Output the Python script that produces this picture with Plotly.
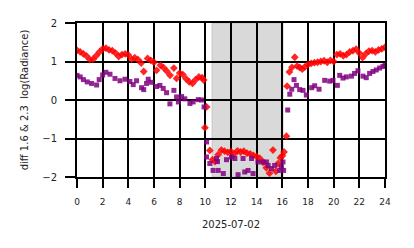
import plotly.graph_objects as go

# Red series (diff 1.6 um) - hours, values
red_t = [0.00, 0.25, 0.50, 0.75, 1.00, 1.25, 1.50, 1.75, 2.00, 2.25, 2.50, 2.75,
         3.00, 3.25, 3.50, 3.75, 4.00, 4.25, 4.50, 4.75, 5.00, 5.20, 5.50, 5.75,
         6.00, 6.20, 6.50, 6.75, 7.00, 7.25, 7.55, 7.76, 8.00, 8.25, 8.50, 8.75,
         9.00, 9.25, 9.50, 9.75, 9.87, 9.97, 10.10, 10.35, 10.55, 10.75, 11.00, 11.25,
         11.50, 11.75, 12.00, 12.25, 12.50, 12.75, 13.00, 13.25, 13.50, 13.75, 14.00, 14.25,
         14.50, 14.75, 15.00, 15.27, 15.50, 15.67, 15.85, 16.00, 16.13, 16.32, 16.37, 16.55,
         16.75, 16.97, 17.15, 17.35, 17.55, 17.75, 18.00, 18.25, 18.50, 18.75, 19.00, 19.25,
         19.50, 19.75, 20.00, 20.25, 20.50, 20.75, 21.00, 21.25, 21.50, 21.75, 22.00, 22.25,
         22.50, 22.75, 23.00, 23.25, 23.50, 23.75, 24.00]
red_v = [1.29, 1.25, 1.20, 1.14, 1.05, 1.06, 1.15, 1.25, 1.33, 1.35, 1.30, 1.28,
         1.22, 1.13, 1.18, 1.20, 1.17, 1.06, 1.10, 1.05, 0.96, 0.74, 1.08, 1.03,
         0.98, 0.77, 0.90, 0.84, 0.75, 0.64, 0.83, 0.56, 0.70, 0.66, 0.55, 0.47,
         0.43, 0.53, 0.60, 0.58, 0.52, -0.72, -0.18, -1.31, -1.55, -1.60, -1.42, -1.30,
         -1.33, -1.36, -1.34, -1.40, -1.32, -1.35, -1.33, -1.38, -1.40, -1.44, -1.47, -1.52,
         -1.62, -1.76, -1.90, -1.30, -1.85, -1.65, -1.50, -1.45, -1.35, -0.94, 0.36, 0.73,
         0.85, 1.11, 0.88, 0.85, 0.80, 0.86, 0.92, 0.95, 0.97, 0.98, 1.00, 1.02,
         0.98, 1.03, 1.00, 1.18, 1.20, 1.15, 1.18, 1.25, 1.28, 1.32, 1.22, 1.10,
         1.20, 1.27, 1.28, 1.25, 1.30, 1.33, 1.37]

# Purple series (diff 2.3 um)
pur_t = [0.00, 0.25, 0.50, 0.80, 1.14, 1.53, 1.73, 2.00, 2.25, 2.57, 2.96, 3.35,
         3.74, 4.12, 4.38, 4.64, 5.03, 5.20, 5.42, 5.55, 5.80, 6.20, 6.46, 6.72,
         6.98, 7.24, 7.55, 7.76, 7.90, 8.15, 8.40, 8.80, 9.05, 9.45, 9.70, 9.90,
         10.10, 10.09, 10.35, 10.60, 10.87, 10.95, 11.00, 11.40, 11.65, 12.04, 12.30, 12.55,
         12.94, 13.07, 13.33, 13.60, 13.72, 14.10, 14.50, 14.76, 14.89, 15.15, 15.40, 15.80,
         15.93, 16.05, 16.10, 16.42, 16.58, 16.73, 16.91, 17.10, 17.35, 17.61, 17.87, 18.29,
         18.52, 18.86, 19.30, 19.69, 19.95, 20.29, 20.47, 20.73, 20.99, 21.38, 21.63, 21.89,
         22.28, 22.54, 22.80, 23.06, 23.32, 23.58, 23.84, 24.00]
pur_v = [0.64, 0.60, 0.53, 0.47, 0.43, 0.39, 0.53, 0.65, 0.72, 0.67, 0.56, 0.50,
         0.54, 0.48, 0.40, 0.50, 0.32, 0.27, 0.43, 0.54, 0.46, 0.35, 0.38, 0.30,
         0.19, -0.10, 0.25, 0.08, -0.05, 0.09, 0.03, -0.09, -0.05, 0.01, 0.00, -0.18,
         -1.09, -1.48, -1.65, -1.83, -1.52, -1.60, -1.83, -1.91, -1.55, -1.48, -1.52, -1.94,
         -1.52, -1.87, -1.83, -1.52, -1.91, -1.61, -1.61, -1.61, -1.70, -1.78, -1.70, -1.83,
         -1.74, -1.61, -1.83, -0.26, 0.15, 0.28, 0.53, 0.38, 0.27, 0.25, 0.13, 0.32,
         0.37, 0.28, 0.51, 0.49, 0.51, 0.38, 0.64, 0.57, 0.60, 0.62, 0.69, 0.76,
         0.62, 0.58, 0.69, 0.74, 0.78, 0.83, 0.87, 0.90]

night_start, night_end = 10.53, 16.05
x_ticks = [0, 2, 4, 6, 8, 10, 12, 14, 16, 18, 20, 22, 24]
y_ticks = [-2, -1, 0, 1, 2]

fig = go.Figure()
fig.add_vrect(x0=night_start, x1=night_end, fillcolor="#d9d9d9", opacity=1,
              line=dict(color="#c4c4c4", width=1), layer="below")
fig.add_trace(go.Scatter(x=red_t, y=red_v, mode="markers",
                         marker=dict(symbol="diamond", size=6, color="#ff0000",
                                     opacity=0.85, line=dict(width=0))))
fig.add_trace(go.Scatter(x=pur_t, y=pur_v, mode="markers",
                         marker=dict(symbol="square", size=5, color="#800080",
                                     opacity=0.85, line=dict(width=0))))

font = "DejaVu Sans"
fig.update_layout(
    width=414, height=248,
    margin=dict(l=77, r=29, t=23, b=71),
    paper_bgcolor="white", plot_bgcolor="white",
    showlegend=False,
    font=dict(family=font, size=9, color="#222222"),
    xaxis=dict(range=[0, 24], tickvals=x_ticks, ticks="outside", ticklen=9,
               tickwidth=2, tickcolor="black", showgrid=True, gridcolor="black",
               gridwidth=2, zeroline=False, showline=True, linecolor="black",
               linewidth=2, mirror=True, ticklabelstandoff=6,
               title=dict(text="2025-07-02", font=dict(size=10), standoff=15),
               tickfont=dict(size=9)),
    yaxis=dict(range=[-2, 2], tickvals=y_ticks, ticks="outside", ticklen=10,
               tickwidth=2, tickcolor="black", showgrid=True, gridcolor="black",
               gridwidth=2, zeroline=False, showline=True, linecolor="black",
               linewidth=2, mirror=True, ticklabelstandoff=6,
               title=dict(text="diff 1.6 & 2.3  log(Radiance)", font=dict(size=10),
                          standoff=12),
               tickfont=dict(size=10)),
)

fig.write_html("out.html")
